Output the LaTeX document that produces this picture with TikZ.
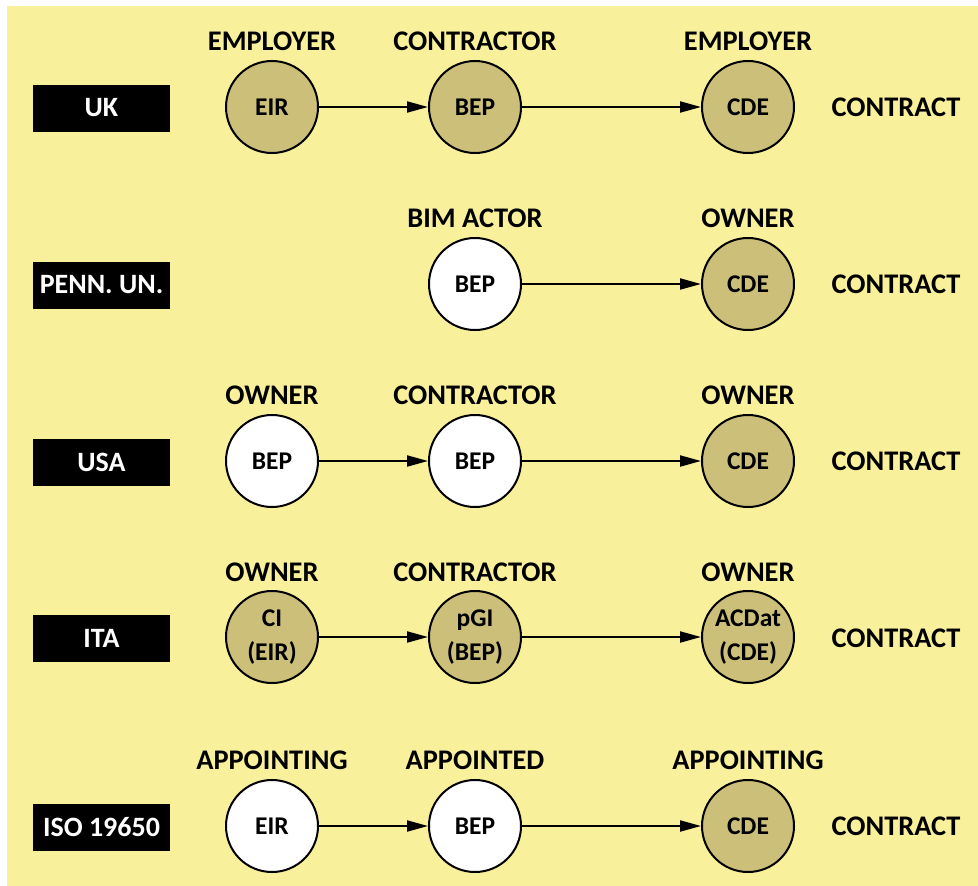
\documentclass[tikz,border=0pt]{standalone}
\usepackage{fontspec}
\setmainfont{Carlito}
\usetikzlibrary{arrows.meta}
\definecolor{bgyellow}{HTML}{F9F09B}
\definecolor{tan}{HTML}{CBBF7A}
\begin{document}
\begin{tikzpicture}[x=1pt,y=-1pt,
  lbl/.style={font=\bfseries\fontsize{28.4}{30}\selectfont, inner sep=0pt},
  country/.style={fill=black, text=white, minimum width=137pt, minimum height=47pt,
    inner sep=0pt, font=\bfseries\fontsize{28}{30}\selectfont},
  doc/.style={circle, draw=black, line width=2pt, minimum size=92pt, inner sep=0pt,
    align=center, font=\bfseries\fontsize{25.5}{34}\selectfont},
  filled/.style={doc, fill=tan},
  empty/.style={doc, fill=white},
  flow/.style={-{Triangle[length=21pt,width=11pt]}, line width=2pt}]
\useasboundingbox (0,0) rectangle (978,886);
\fill[bgyellow] (7,6) rectangle (978,886);

% Column x positions: 101 (country), 272, 475, 748, 896 (contract)
% UK
\node[country] (uk) at (101.5,108) {UK};
\node[filled] (uk1) at (272,107) {EIR};
\node[filled] (uk2) at (475,107) {BEP};
\node[filled] (uk3) at (748,107) {CDE};
\node[lbl] (uk1l) at (272,41) {EMPLOYER};
\node[lbl] (uk2l) at (475,41) {CONTRACTOR};
\node[lbl] (uk3l) at (748,41) {EMPLOYER};
\node[lbl] (ukc) at (896,107) {CONTRACT};
\draw[flow] (uk1) -- (uk2);
\draw[flow] (uk2) -- (uk3);

% PENN. UN.
\node[country] (pu) at (101.5,285) {PENN. UN.};
\node[empty] (pu2) at (475,284) {BEP};
\node[filled] (pu3) at (748,284) {CDE};
\node[lbl] (pu2l) at (475,218) {BIM ACTOR};
\node[lbl] (pu3l) at (748,218) {OWNER};
\node[lbl] (puc) at (896,284) {CONTRACT};
\draw[flow] (pu2) -- (pu3);

% USA
\node[country] (us) at (101.5,462) {USA};
\node[empty] (us1) at (272,461) {BEP};
\node[empty] (us2) at (475,461) {BEP};
\node[filled] (us3) at (748,461) {CDE};
\node[lbl] (us1l) at (272,395) {OWNER};
\node[lbl] (us2l) at (475,395) {CONTRACTOR};
\node[lbl] (us3l) at (748,395) {OWNER};
\node[lbl] (usc) at (896,461) {CONTRACT};
\draw[flow] (us1) -- (us2);
\draw[flow] (us2) -- (us3);

% ITA
\node[country] (it) at (101.5,638) {ITA};
\node[filled] (it1) at (272,637) {CI\\(EIR)};
\node[filled] (it2) at (475,637) {pGI\\(BEP)};
\node[filled] (it3) at (748,637) {ACDat\\(CDE)};
\node[lbl] (it1l) at (272,572) {OWNER};
\node[lbl] (it2l) at (475,572) {CONTRACTOR};
\node[lbl] (it3l) at (748,572) {OWNER};
\node[lbl] (itc) at (896,638) {CONTRACT};
\draw[flow] (it1) -- (it2);
\draw[flow] (it2) -- (it3);

% ISO 19650
\node[country] (iso) at (101.5,827) {ISO 19650};
\node[empty] (iso1) at (272,826) {EIR};
\node[empty] (iso2) at (475,826) {BEP};
\node[filled] (iso3) at (748,826) {CDE};
\node[lbl] (iso1l) at (272,760) {APPOINTING};
\node[lbl] (iso2l) at (475,760) {APPOINTED};
\node[lbl] (iso3l) at (748,760) {APPOINTING};
\node[lbl] (isoc) at (896,826) {CONTRACT};
\draw[flow] (iso1) -- (iso2);
\draw[flow] (iso2) -- (iso3);
\end{tikzpicture}
\end{document}
